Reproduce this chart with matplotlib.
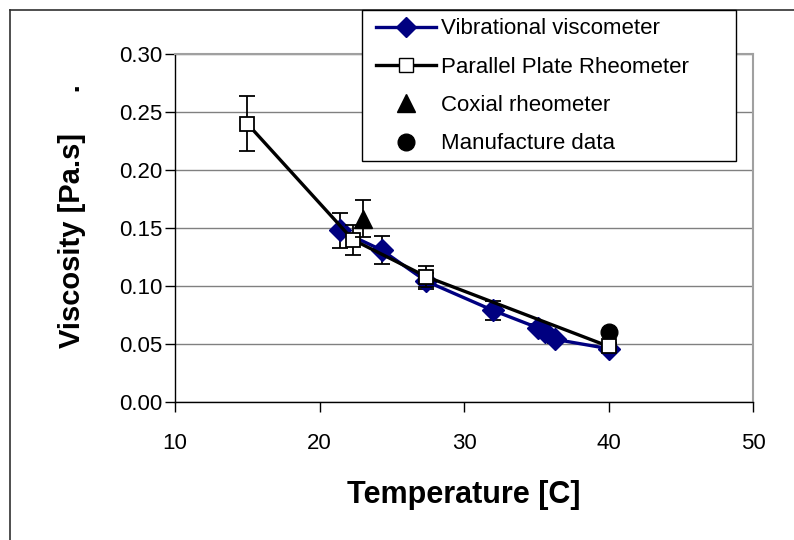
import matplotlib
matplotlib.use("Agg")
import matplotlib.pyplot as plt
from matplotlib.lines import Line2D
from matplotlib.patches import Rectangle

plt.rcParams['font.family'] = ['Liberation Sans', 'DejaVu Sans']

# vibrational viscometer
vib_t = [21.4, 24.3, 27.4, 32.0, 35.1, 35.6, 36.3, 40.0]
vib_mu = [0.148, 0.131, 0.104, 0.079, 0.064, 0.060, 0.054, 0.046]
vib_err = [0.015, 0.012, 0.007, 0.008, 0.003, 0.003, 0.003, 0.003]

# parallel plate rheometer
pp_t = [15.0, 22.3, 27.4, 40.0]
pp_mu = [0.240, 0.140, 0.108, 0.048]
pp_err = [0.024, 0.013, 0.009, 0.003]

# coaxial rheometer
cox_t = [23.0]
cox_mu = [0.158]
cox_err = [0.016]

# manufacturer value
man_t = [40.0]
man_mu = [0.060]

W, H = 794, 540
fig = plt.figure(figsize=(W / 100, H / 100), dpi=100)
ax = fig.add_axes([175 / W, 1 - 402 / H, (753 - 175) / W, (402 - 54) / H])

navy = '#000080'
ax.errorbar(vib_t, vib_mu, yerr=vib_err, color=navy, lw=2.4, marker='D', ms=11,
            mfc=navy, mec=navy, ecolor='black', elinewidth=1.3, capsize=6,
            capthick=1.3, zorder=3)
ax.errorbar(pp_t, pp_mu, yerr=pp_err, color='black', lw=2.4, marker='s', ms=10,
            mfc='white', mec='black', mew=1.3, ecolor='black', elinewidth=1.3,
            capsize=6, capthick=1.3, zorder=4)
ax.errorbar(cox_t, cox_mu, yerr=cox_err, color='black', ls='none', marker='^',
            ms=13, elinewidth=1.3, capsize=6, capthick=1.3, zorder=5)
ax.plot(man_t, man_mu, 'o', color='black', ms=12, zorder=2)

ax.set_xlim(10, 50)
ax.set_ylim(0, 0.30)
ax.set_xticks([10, 20, 30, 40, 50])
ax.set_yticks([0, 0.05, 0.10, 0.15, 0.20, 0.25, 0.30])
ax.yaxis.set_major_formatter(matplotlib.ticker.FormatStrFormatter('%.2f'))
ax.tick_params(axis='both', direction='out', length=7, width=1, labelsize=16,
               colors='black')
ax.tick_params(axis='x', pad=15)
ax.tick_params(axis='y', pad=2)
ax.grid(axis='y', color='#808080', lw=1)
ax.set_axisbelow(True)
for side in ('top', 'right'):
    ax.spines[side].set_color('#a0a0a0')
    ax.spines[side].set_linewidth(1.5)
for side in ('left', 'bottom'):
    ax.spines[side].set_color('black')
    ax.spines[side].set_linewidth(1)

ax.set_xlabel('Temperature [C]', fontsize=22, fontweight='bold')
ax.xaxis.set_label_coords(0.5, -0.225)
ax.set_ylabel('Viscosity [Pa.s]     .', fontsize=21, fontweight='bold')
ax.yaxis.set_label_coords(-0.154, 0.534)

# legend box, drawn over the plot area
fig.add_artist(Rectangle((362 / W, 1 - 161 / H), (736 - 362) / W, (161 - 10) / H,
                         transform=fig.transFigure, facecolor='white',
                         edgecolor='black', lw=1, zorder=4))
handles = [
    Line2D([], [], color=navy, lw=2.4, marker='D', ms=10, mfc=navy, mec=navy),
    Line2D([], [], color='black', lw=2.4, marker='s', ms=10, mfc='white', mec='black'),
    Line2D([], [], color='black', ls='none', marker='^', ms=13),
    Line2D([], [], color='black', ls='none', marker='o', ms=12),
]
labels = ['Vibrational viscometer', 'Parallel Plate Rheometer',
          'Coxial rheometer', 'Manufacture data']
leg = fig.legend(handles, labels, loc='upper left',
                 bbox_to_anchor=(372 / W, 1 - 14 / H), fontsize=16,
                 frameon=False, handlelength=2.7, handletextpad=0.2,
                 labelspacing=0.78, borderpad=0.2, borderaxespad=0)
leg.set_zorder(5)

# outer chart border
fig.add_artist(Line2D([10 / W, 10 / W], [0, 1 - 10 / H], color='#303030', lw=1.2))
fig.add_artist(Line2D([10 / W, 1], [1 - 10 / H, 1 - 10 / H], color='#303030', lw=1.2))

fig.savefig('out.png', dpi=100)
